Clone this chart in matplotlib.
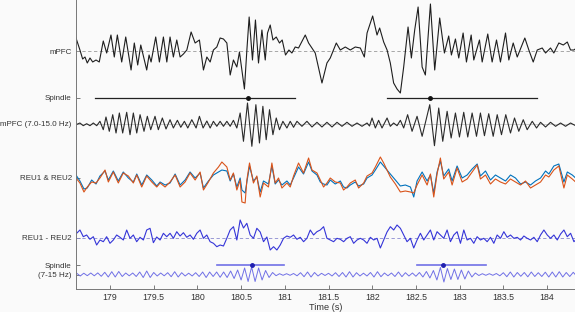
import numpy as np
import matplotlib
matplotlib.use("Agg")
import matplotlib.pyplot as plt

plt.rcParams["font.family"] = ["Liberation Sans", "DejaVu Sans"]

# raw mPFC (times in s, values in display units, up = positive)
mpfc_t = [178.611, 178.656, 178.687, 178.714, 178.740, 178.771, 178.802, 178.840, 178.877, 178.923,
          178.962, 179.011, 179.049, 179.084, 179.134, 179.180, 179.241, 179.278, 179.317, 179.352,
          179.420, 179.447, 179.470, 179.523, 179.565, 179.611, 179.650, 179.687, 179.725, 179.764,
          179.802, 179.840, 179.879, 179.928, 179.974, 180.023, 180.069, 180.108, 180.146, 180.183,
          180.222, 180.260, 180.298, 180.337, 180.375, 180.412, 180.451, 180.481, 180.538, 180.566,
          180.592, 180.630, 180.664, 180.699, 180.738, 180.776, 180.802, 180.833, 180.864, 180.902,
          180.939, 180.970, 181.008, 181.047, 181.081, 181.119, 181.157, 181.234, 181.272, 181.348,
          181.425, 181.482, 181.520, 181.589, 181.635, 181.692, 181.749, 181.806, 181.864, 181.910,
          181.941, 182.005, 182.055, 182.085, 182.131, 182.170, 182.207, 182.245, 182.284, 182.322,
          182.360, 182.410, 182.448, 182.486, 182.525, 182.571, 182.608, 182.666, 182.715, 182.772,
          182.826, 182.875, 182.906, 182.952, 182.990, 183.040, 183.078, 183.132, 183.162, 183.227,
          183.258, 183.322, 183.372, 183.422, 183.467, 183.525, 183.563, 183.613, 183.659, 183.746,
          183.792, 183.842, 183.888, 183.945, 183.983, 184.040, 184.078, 184.135, 184.186, 184.232,
          184.269, 184.307, 184.338]
mpfc_v = [13, 1, -8, -6, -12, -7, -11, -9, -11, 10,
          -2, 16, -6, 16, -11, 14, -19, 8, -14, 6,
          -19, -4, -11, 14, -11, 14, -11, 14, -6, 11,
          -6, -3, 1, 19, 8, 11, -19, -6, -11, 1,
          4, 13, 12, 8, -24, -9, -16, -1, -38, 1,
          34, -9, 31, -12, 21, -9, 18, 26, 11, 14,
          8, 11, -4, 1, -2, 4, 3, 16, 8, -2,
          -32, -12, -7, 8, 1, 4, 1, 4, 3, -6,
          18, 35, 16, 23, 9, 1, -12, -32, -38, -42,
          -16, 24, -7, 21, 44, -16, -24, 47, -19, 33,
          -2, 15, -4, 12, -7, 18, -11, 16, -9, 11,
          -11, 17, -11, 11, -11, 18, -9, 8, -6, 13,
          1, -11, 1, 3, -2, 3, -2, 8, 6, 9,
          1, 1, 3]

# mPFC band-passed 7-15 Hz
filt_t = [178.611, 178.656, 178.694, 178.733, 178.771, 178.809, 178.848, 178.885, 178.923, 178.954,
          178.992, 179.031, 179.069, 179.107, 179.145, 179.191, 179.229, 179.267, 179.306, 179.344,
          179.389, 179.427, 179.466, 179.515, 179.553, 179.599, 179.641, 179.687, 179.725, 179.771,
          179.810, 179.851, 179.890, 179.936, 179.985, 180.023, 180.065, 180.108, 180.146, 180.183,
          180.222, 180.260, 180.298, 180.337, 180.375, 180.412, 180.451, 180.489, 180.527, 180.573,
          180.623, 180.669, 180.710, 180.749, 180.787, 180.825, 180.864, 180.902, 180.939, 180.978,
          181.024, 181.062, 181.100, 181.139, 181.196, 181.253, 181.311, 181.368, 181.425, 181.482,
          181.540, 181.597, 181.654, 181.711, 181.769, 181.826, 181.883, 181.941, 181.969, 181.998,
          182.036, 182.073, 182.112, 182.170, 182.207, 182.245, 182.284, 182.322, 182.360, 182.405,
          182.456, 182.513, 182.571, 182.658, 182.712, 182.761, 182.807, 182.857, 182.903, 182.952,
          182.998, 183.047, 183.093, 183.143, 183.193, 183.238, 183.284, 183.333, 183.384, 183.430,
          183.479, 183.528, 183.582, 183.628, 183.677, 183.728, 183.773, 183.831, 183.880, 183.926,
          183.983, 184.040, 184.098, 184.155, 184.212, 184.269, 184.327]
filt_v = [-0.7, 1, -1.7, 0.3, -1.7, 1, -1.7, 2.7, -5.7, 7,
          -7.3, 9.3, -9, 11, -9, 11.7, -10.7, 11, -9, 9.3,
          -7.3, 7.7, -5.7, 7.7, -5.7, 6, -5, 4.3, -4, 3.7,
          -3.3, 2.7, -4, 4.3, -4, 7.7, -4, 3, -4, 2.7,
          -2.3, 2.7, -2.3, 2.7, -2.3, 3.7, -4, 11, -17.3, 21,
          -22.3, 19.3, -19, 17.7, -15.7, 14.3, -10.7, 6, -5.7, 2.7,
          -4, 2.7, -3.3, 2.7, -2.3, 2.7, -3, 1.7, -3, 1.7,
          -3, 1.7, -2.3, 1.7, -2.3, 1, -2.3, 1, -2, 6,
          -4, 3.7, -4, 6, -2.3, 1, -1.7, 3.7, -4, 9.3,
          -7.3, 7.7, -12.3, 19.3, -21.7, 16, -17.3, 12.7, -14, 11,
          -13, 11.7, -13, 11, -12.3, 11, -11.7, 10.3, -12.3, 9.3,
          -10.7, 9.3, -9, 6, -7.3, 4.3, -5.7, 2.7, -4, 1.7,
          -3, 1.7, -2.3, 1, -2.3, 1, -1.7]

# REU1 / REU2 raw
reu_t = [178.611, 178.656, 178.702, 178.740, 178.790, 178.840, 178.885, 178.943, 178.981, 179.038,
         179.095, 179.152, 179.210, 179.267, 179.306, 179.363, 179.420, 179.478, 179.535, 179.573,
         179.630, 179.687, 179.745, 179.802, 179.859, 179.916, 179.974, 180.031,
         180.069, 180.126, 180.183, 180.241, 180.280, 180.337, 180.375, 180.412, 180.451, 180.489,
         180.509, 180.546, 180.566, 180.596, 180.641, 180.680, 180.718, 180.756, 180.813, 180.852,
         180.890, 180.928, 180.967, 181.024, 181.062, 181.100, 181.157, 181.214, 181.272, 181.311,
         181.368, 181.406, 181.443, 181.482, 181.520, 181.577, 181.635, 181.672, 181.711, 181.749,
         181.806, 181.844, 181.902, 181.941, 181.998, 182.036, 182.093, 182.131,
         182.207, 182.265, 182.322, 182.379, 182.437, 182.475, 182.513, 182.571, 182.628, 182.666,
         182.704, 182.742, 182.780, 182.818, 182.875, 182.914, 182.971, 183.029, 183.086, 183.143,
         183.201, 183.238, 183.296, 183.353, 183.410, 183.467, 183.525, 183.582, 183.639, 183.697,
         183.754, 183.811, 183.868, 183.926, 183.983, 184.021, 184.078, 184.135, 184.193, 184.232,
         184.289, 184.327]
reu1_v = [3, -3, -11, -10, -2, -6, 2, 7, -2, 7, -3, 6, 0, -4, 4, -7, 3, -2, -8, -4,
          -7, -5, 4, -7, -2, 6, 0, 5,
          -10, -3, 3, 6, 8, 7, -3, 4, -9, 0, -12, -15, -4, 12, -3, 1, -14, -3, -6, 12,
          -6, -2, -7, -3, -7, 0, 11, 4, 16, 7, 3, -4, -6, -7, -2, -6, -3, -9, -10, -7,
          -4, -8, -6, 0, 3, 8, 16, 12,
          4, -2, -8, -7, -9, -19, -3, 6, -3, 3, -15, 6, 17, 2, 9, -3, 12, 0, 3, 9,
          14, 2, 7, -2, 3, 0, -3, 3, 0, -6, -4, -7, -3, 0, 7, 4, 12, 14, -4, 6,
          3, 0]
reu2_v = [0, -5, -14, -9, -4, -5, 0, 8, -4, 6, -5, 5, 2, -5, 3, -9, 2, -4, -9, -5,
          -9, -4, 3, -9, -4, 5, -2, 6,
          -12, -4, 5, 11, 16, 11, -2, 5, -12, -2, -24, -25, -2, 15, -5, 2, -19, -5, -9, 15,
          -5, 0, -10, -5, -9, 2, 15, 5, 20, 8, 5, -2, -9, -5, 0, -4, -5, -12, -9, -5,
          -2, -10, -5, 2, 5, 11, 21, 15,
          1, -6, -14, -13, -14, -15, -7, 3, -7, 4, -19, 4, 20, -1, 6, -7, 10, -4, -1, 6,
          13, -1, 3, -6, -1, -4, -6, -1, -4, -7, -3, -10, -7, -4, 3, 1, 8, 12, -10, 3,
          -1, -4]

# REU1 - REU2, evenly sampled
diff_start, diff_end = 178.618, 184.346
diff_v = [4.7, 8, 1.3, 3, -1.3, 1.3, -7, -2, -3.7, 1.3, -5.3, -2, 3, 0.7, -2, 8, -0.3, 3, -3.7, 0.7,
          -2, 8, 9.7, -4.7, 1, -2, 4.7, 1.3, 4.7, -0.3, 6.3, 2, 5.3, 0.7, 3, -1.3, 4.7, 8,
          -0.3, 3, -3.7, -5.3, -8.7, -7, -8, -0.3, 8, 11.3, -2, 18, 10, 14.7, 3, -0.3, 9.7, 6,
          -3.7, 1, -12, -8.7, -12, -7, -0.3, 2, 0.7, 3, -1.3, 0.7, -3.7, -0.3, 8, 3, 6.3, 8,
          11.3, -0.3, -2, -3.7, -0.3, -1.3, -3.7, -0.3, 1.3, -5.3, -2, -0.3, -2, -5.3, 0.7, -2,
          -0.3, -10, -2, 6,
          11.3, 8, 13, 9.7, 3, -3.7, -0.3, -10, -2, 4.7, -2, 3, 8, -2, 6.3, 3, -0.3, 8, -3.7, 3,
          6.3, -5.3, 8, -2, -0.3, -5.3, 1.3, -2, -0.3, -3.7, 0.7, -5.3, 3, -0.3, 6.3, 0.7, 3,
          -0.3, 0.7, -2, 2, -0.3, -2, 0.7, -3.7, 3, 8, 3, -0.3, 3, -2, 4, 8, 1.3, 4.7, -3.7, -0.3]

# spindle band of the difference, sampled every 40 ms
spin_start, spin_dt = 178.62, 0.04
spin_v = [1.2, -1.5, 1.3, -1.2, 1.5, -1.3, 1.6, -1.8, 2.2, -2.5,
          2.8, -2.5, 3, -2, 1.5, -1.3, 1.5, -2, 2.5, -3,
          3.5, -3, 2, -1.5, 1.5, -1.3, 1.8, -2.2, 2.8, -2.5,
          1.8, -1.5, 1.3, -1.5, 1.8, -2, 2.5, -3, 2.5, -2,
          2.5, -2.8, 2.5, -3, 3.5, -4, 4.5, -5.5, 6.5, -7,
          7.5, -7, 6.5, -5.5, 4, -3, 2, -1.2, 0.8, -0.8,
          0.8, -0.8, 1, -1.3, 1.8, -2.2, 2.5, -2.5, 2, -1.5,
          1.2, -1, 1.2, -1.5, 1.8, -2, 2, -2.5, 2.8, -2.5,
          1.8, -1.5, 1.3, -1.5, 2, -2.5, 2.8, -2.2, 1.5, -1.3,
          1.5, -2, 2.5, -2.2, 1.8, -1.5, 1.5, -1.8, 2, -2.5,
          3, -3.5, 4, -5.5, 7, -7.5, 6, -5, 5.5, -5,
          4.5, -4.5, 3.5, -2.5, 1.5, -1, 0.8, -0.8, 0.8, -0.8,
          1, -1.3, 1.8, -2.2, 2.5, -2.5, 2, -1.8, 2, -2.3,
          2.5, -2, 1.8, -2, 2.3, -2.5, 2.5, -2.5, 2.8, -2.5,
          2, -2, 2.2, -1.8]

# detected spindles: start, centre, end (s)
mpfc_sp_start = [178.828, 182.173]
mpfc_sp_peak = [180.581, 182.666]
mpfc_sp_end = [181.119, 183.880]
reu_sp_start = [180.222, 182.513]
reu_sp_peak = [180.623, 182.807]
reu_sp_end = [180.985, 183.307]

tick_labels = ["mPFC", "Spindle", "mPFC (7.0-15.0 Hz)", "REU1 & REU2",
               "REU1 - REU2", "Spindle", "(7-15 Hz)"]
row_pos = [51, 98, 124, 178, 238, 265, 274.5]

fig = plt.figure(figsize=(5.75, 3.12), dpi=100, facecolor="#fafafa")
ax = fig.add_axes([76 / 575, 23.5 / 312, 1 - 76 / 575, 288.5 / 312])
ax.set_facecolor("#fafafa")

xlim = (178.611, 184.32)
ax.plot(xlim, [row_pos[0]] * 2, color="#9a9a9a", lw=0.6, ls=(0, (4, 3)))
ax.plot(xlim, [row_pos[2]] * 2, color="#c4c4c4", lw=0.6)
ax.plot(xlim, [row_pos[4]] * 2, color="#8a8ad0", lw=0.6, ls=(0, (4, 3)))

ax.plot(mpfc_t, row_pos[0] - np.array(mpfc_v), color="#1e1e1e", lw=0.8)
ax.plot(filt_t, row_pos[2] - np.array(filt_v), color="#2a2a2a", lw=0.8)

ax.plot(reu_t, row_pos[3] - np.array(reu1_v), color=(0.0, 0.447, 0.741), lw=0.8)
ax.plot(reu_t, row_pos[3] - np.array(reu2_v), color=(0.85, 0.325, 0.098), lw=0.8)

diff_t = np.linspace(diff_start, diff_end, len(diff_v))
ax.plot(diff_t, row_pos[4] - np.array(diff_v), color="#3535d8", lw=0.8)

spin_t = spin_start + spin_dt * np.arange(len(spin_v))
ax.plot(spin_t, row_pos[6] - np.array(spin_v), color="#7070e6", lw=0.7)

for s, p, e in zip(mpfc_sp_start, mpfc_sp_peak, mpfc_sp_end):
    ax.plot([s, e], [row_pos[1]] * 2, color="#222222", lw=0.9)
    ax.plot([p], [row_pos[1]], "o", color="#111111", ms=2.5)
for s, p, e in zip(reu_sp_start, reu_sp_peak, reu_sp_end):
    ax.plot([s, e], [row_pos[5]] * 2, color="#7070e6", lw=1.2)
    ax.plot([p], [row_pos[5]], "o", color="#2020b0", ms=2.5)

ax.set_xlim(*xlim)
ax.set_ylim(288.5, 0)
ax.set_xticks([179, 179.5, 180, 180.5, 181, 181.5, 182, 182.5, 183, 183.5, 184])
ax.set_xticklabels(["179", "179.5", "180", "180.5", "181", "181.5", "182",
                    "182.5", "183", "183.5", "184"])
ax.set_yticks(row_pos)
ax.set_yticklabels(tick_labels)
ax.tick_params(direction="in", length=3, width=0.6, color="#666666",
               labelsize=6.3, labelcolor="#333333", pad=3)
ax.tick_params(axis="y", labelsize=5.8, pad=3)
for side in ["top", "right"]:
    ax.spines[side].set_visible(False)
for side in ["left", "bottom"]:
    ax.spines[side].set_color("#777777")
    ax.spines[side].set_linewidth(0.7)
ax.set_xlabel("Time (s)", fontsize=6.6, color="#333333", labelpad=1)

fig.savefig("out.png", dpi=100, facecolor=fig.get_facecolor())
